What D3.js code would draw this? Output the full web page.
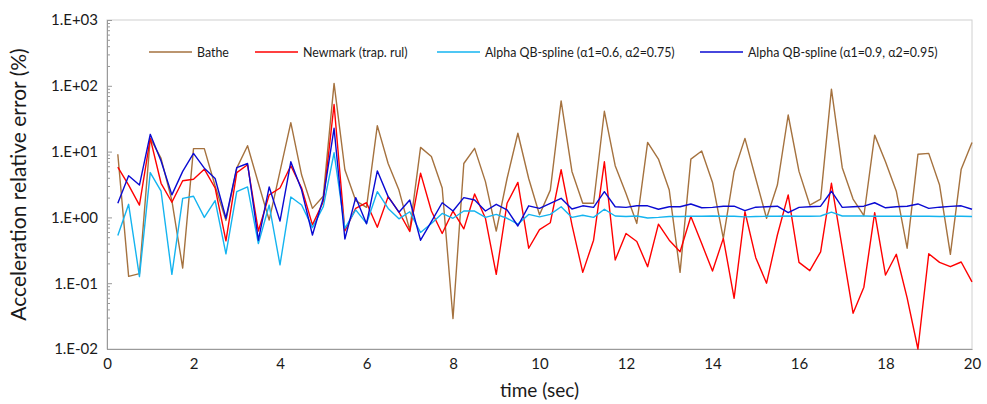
<!DOCTYPE html>
<html>
<head>
<meta charset="utf-8">
<script src="https://cdn.jsdelivr.net/npm/d3@7"></script>
<style>
  body { margin: 0; background: #fff; }
  text { font-family: Lato, "Open Sans", sans-serif; fill: #1a1a1a; }
</style>
</head>
<body>
<div id="chart"></div>
<script>
// données (pas de temps 0.25 s, de 0.25 à 20 s)
const dt = 0.25;
const bathe = [
  9.1, 0.127, 0.14, 16, 7.9, 1.8, 0.17, 11.1, 11.1, 3.0,
  0.9, 5.6, 12.3, 3.3, 0.91, 5.0, 27.5, 4.4, 1.37, 2.1,
  109, 5.3, 1.8, 1.42, 24.8, 6.6, 2.6, 0.64, 11.6, 8.4,
  2.8, 0.029, 6.6, 11.2, 3.5, 0.62, 3.9, 19, 3.9, 1.1,
  2.6, 59, 5.0, 1.64, 1.64, 41, 6.1, 2.3, 0.81, 13.8,
  7.7, 2.6, 0.146, 7.7, 10.2, 3.4, 0.48, 5.0, 15.9, 3.9,
  0.97, 3.1, 36, 5.0, 1.54, 1.9, 89, 5.7, 1.9, 1.06,
  17.8, 7.0, 2.5, 0.34, 9.1, 9.4, 3.1, 0.275, 5.4, 13.8
];
const newmark = [
  5.8, 3.1, 1.54, 15.9, 3.3, 1.7, 3.6, 3.8, 5.4, 2.8,
  0.44, 4.8, 6.3, 0.62, 2.2, 2.8, 6.1, 2.8, 0.77, 1.73,
  52, 0.62, 1.37, 1.67, 0.71, 2.07, 1.2, 0.61, 4.7, 1.25,
  0.57, 1.25, 0.67, 2.27, 0.97, 0.136, 1.64, 3.4, 0.34, 0.65,
  0.83, 5.3, 0.77, 0.146, 0.45, 7.0, 0.225, 0.57, 0.43, 0.178,
  0.79, 0.45, 0.30, 1.03, 0.40, 0.153, 0.48, 0.059, 1.22, 0.244,
  0.1, 0.54, 2.2, 0.207, 0.155, 0.30, 3.3, 0.34, 0.035, 0.087,
  1.18, 0.133, 0.275, 0.06, 0.01, 0.28, 0.207, 0.178, 0.21, 0.105
];
const alpha1 = [
  0.53, 1.58, 0.126, 4.8, 2.5, 0.136, 1.95, 2.1, 1.0, 1.8,
  0.28, 2.46, 2.9, 0.40, 1.54, 0.19, 2.04, 1.54, 0.70, 1.45,
  9.6, 0.68, 1.3, 0.81, 2.46, 1.37, 0.95, 1.22, 0.59, 0.81,
  1.15, 0.97, 1.25, 1.25, 1.0, 1.11, 0.97, 0.79, 1.11, 1.02,
  1.11, 1.45, 1.0, 1.08, 1.0, 1.33, 1.05, 1.03, 1.05, 0.98,
  1.0, 1.03, 1.03, 1.04, 1.04, 1.05, 1.04, 1.04, 1.02, 1.03,
  1.04, 1.04, 1.05, 1.04, 1.04, 1.05, 1.2, 1.05, 1.05, 1.05,
  1.04, 1.04, 1.04, 1.04, 1.04, 1.04, 1.03, 1.04, 1.04, 1.03
];
const alpha2 = [
  1.64, 4.3, 3.1, 18.3, 7.2, 2.2, 5.0, 9.4, 5.6, 3.9,
  0.97, 5.7, 6.6, 0.45, 2.9, 0.88, 7.0, 2.6, 0.54, 1.95,
  22.6, 0.47, 2.0, 0.80, 5.1, 2.07, 1.2, 1.84, 0.45, 0.86,
  1.67, 1.25, 2.0, 1.84, 1.25, 1.58, 1.3, 0.74, 1.5, 1.37,
  1.64, 1.95, 1.34, 1.5, 1.42, 2.46, 1.45, 1.42, 1.5, 1.5,
  1.33, 1.45, 1.45, 1.6, 1.4, 1.42, 1.48, 1.48, 1.27, 1.43,
  1.45, 1.48, 1.18, 1.42, 1.45, 1.48, 2.5, 1.42, 1.45, 1.48,
  1.67, 1.4, 1.45, 1.48, 1.6, 1.37, 1.43, 1.47, 1.5, 1.33
];
const seriesNames = ["Bathe", "Newmark (trap. rul)", "Alpha QB-spline (α1=0.6, α2=0.75)", "Alpha QB-spline (α1=0.9, α2=0.95)"];
const seriesColors = ["#a5723f", "#ff0000", "#14b4f0", "#0a0ad2"];
const xTicks = [0, 2, 4, 6, 8, 10, 12, 14, 16, 18, 20];
const yTicks = [1e-2, 1e-1, 1, 10, 100, 1000];

const largeur = 987, hauteur = 404;
const marge = {haut: 20, droite: 15, bas: 55, gauche: 107};

const svg = d3.select("#chart").append("svg")
    .attr("width", largeur).attr("height", hauteur);

const x = d3.scaleLinear().domain([0, 20]).range([marge.gauche, largeur - marge.droite]);
const y = d3.scaleLog().domain([1e-2, 1e3]).range([hauteur - marge.bas, marge.haut]);

// cadre de la zone de tracé
svg.append("rect")
    .attr("x", x(0)).attr("y", y(1e3))
    .attr("width", x(20) - x(0)).attr("height", y(1e-2) - y(1e3))
    .attr("fill", "none").attr("stroke", "#d0d0d0");

// petites graduations (log)
const mineures = [];
for (let e = -2; e < 3; e++) for (let k = 2; k <= 9; k++) mineures.push(k * Math.pow(10, e));
svg.append("g")
    .attr("transform", "translate(" + x(0) + ",0)")
    .call(d3.axisLeft(y).tickValues(mineures).tickSize(-3).tickFormat(""))
    .call(g => g.select(".domain").remove())
    .selectAll("line").attr("stroke", "#9a9a9a");

// axe Y
const fmt = v => {
  const e = Math.round(Math.log10(v));
  return "1.E" + (e < 0 ? "-" : "+") + String(Math.abs(e)).padStart(2, "0");
};
const axeY = svg.append("g")
    .attr("transform", "translate(" + x(0) + ",0)")
    .call(d3.axisLeft(y).tickValues(yTicks).tickSize(-5).tickPadding(9).tickFormat(fmt));
axeY.select(".domain").attr("stroke", "#9a9a9a");
axeY.selectAll("line").attr("stroke", "#9a9a9a");
axeY.selectAll("text").style("font-size", "15px").attr("fill", "#1a1a1a");

// axe X
const axeX = svg.append("g")
    .attr("transform", "translate(0," + y(1e-2) + ")")
    .call(d3.axisBottom(x).tickValues(xTicks).tickSize(0).tickPadding(9));
axeX.select(".domain").attr("stroke", "#9a9a9a");
axeX.selectAll("text").style("font-size", "15px").attr("fill", "#1a1a1a");

// titres des axes
svg.append("text")
    .attr("x", (x(0) + x(20)) / 2).attr("y", 397)
    .attr("text-anchor", "middle").style("font-size", "19px")
    .text("time (sec)");
svg.append("text")
    .attr("transform", "translate(26," + ((y(1e3) + y(1e-2)) / 2) + ") rotate(-90)")
    .attr("text-anchor", "middle").style("font-size", "21px")
    .text("Acceleration relative error (%)");

// courbes
const toutes = [bathe, newmark, alpha1, alpha2];
const ligne = d3.line()
    .x((d, i) => x((i + 1) * dt))
    .y(d => y(d));
const courbes = svg.append("g");
toutes.forEach((serie, s) => {
  courbes.append("path")
      .datum(serie)
      .attr("d", ligne)
      .attr("fill", "none")
      .attr("stroke", seriesColors[s])
      .attr("stroke-width", 1.4)
      .attr("stroke-linejoin", "round");
});

// légende
const legendeX = [149, 255, 437, 700];
const legende = svg.append("g");
seriesNames.forEach((nom, s) => {
  legende.append("line")
      .attr("x1", legendeX[s]).attr("x2", legendeX[s] + 43)
      .attr("y1", 52).attr("y2", 52)
      .attr("stroke", seriesColors[s]).attr("stroke-width", 1.4);
  legende.append("text")
      .attr("x", legendeX[s] + 48).attr("y", 56.5)
      .style("font-size", "12.4px")
      .text(nom);
});
</script>
</body>
</html>
